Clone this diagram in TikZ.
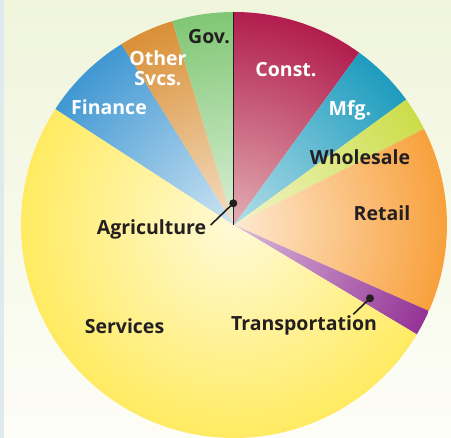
\documentclass[tikz,border=0pt]{standalone}
\usepackage{fontspec}
\setmainfont{Open Sans}
\definecolor{bgtop}{HTML}{F0F5DC}
\definecolor{bgbot}{HTML}{FDFDF7}
\definecolor{strip}{HTML}{DFE9EE}
\definecolor{ink}{HTML}{231F20}
\definecolor{constc}{HTML}{A8003A}
\definecolor{constin}{HTML}{E2AEB2}
\definecolor{mfgc}{HTML}{008FB5}
\definecolor{wholec}{HTML}{C5D82E}
\definecolor{retailc}{HTML}{F7921E}
\definecolor{transc}{HTML}{861888}
\definecolor{servc}{HTML}{FFE84A}
\definecolor{finc}{HTML}{2488CC}
\definecolor{otherc}{HTML}{D4801A}
\definecolor{govc}{HTML}{6EBF60}
\begin{document}
\begin{tikzpicture}[x=1pt,y=1pt,
  lbl/.style={font=\bfseries\fontsize{19.5}{20}\selectfont,text=ink,anchor=base,inner sep=0pt},
  wlbl/.style={lbl,text=white}]
        \def\R{213}
        \useasboundingbox (-234,-213) rectangle (217,225);
        % background
        \fill[top color=bgtop,bottom color=bgbot] (-234,-213) rectangle (217,225);
        \fill[strip] (-234,-213) rectangle (-230,225);
        \coordinate (O) at (0,0);
        % slices
        \begin{scope}
          \clip (O) -- (54:\R) arc[start angle=54,end angle=90,radius=\R] -- cycle;
          \shade[inner color=constin,outer color=constc] (O) circle (1.2*\R);
        \end{scope}
        \begin{scope}
          \clip (O) -- (36.05:\R) arc[start angle=36.05,end angle=54,radius=\R] -- cycle;
          \shade[inner color=mfgc!30!white,outer color=mfgc] (O) circle (1.2*\R);
        \end{scope}
        \begin{scope}
          \clip (O) -- (26.8:\R) arc[start angle=26.8,end angle=36.05,radius=\R] -- cycle;
          \shade[inner color=wholec!25!white,outer color=wholec] (O) circle (1.2*\R);
        \end{scope}
        \begin{scope}
          \clip (O) -- (-23.8:\R) arc[start angle=-23.8,end angle=26.8,radius=\R] -- cycle;
          \shade[inner color=retailc!20!white,outer color=retailc] (O) circle (1.2*\R);
        \end{scope}
        \begin{scope}
          \clip (O) -- (-30.9:\R) arc[start angle=-30.9,end angle=-23.8,radius=\R] -- cycle;
          \shade[inner color=transc!30!white,outer color=transc] (O) circle (1.2*\R);
        \end{scope}
        \begin{scope}
          \clip (O) -- (147:\R) arc[start angle=147,end angle=329.1,radius=\R] -- cycle;
          \shade[inner color=servc!22!white,outer color=servc] (O) circle (1.2*\R);
        \end{scope}
        \begin{scope}
          \clip (O) -- (121.9:\R) arc[start angle=121.9,end angle=147,radius=\R] -- cycle;
          \shade[inner color=finc!22!white,outer color=finc] (O) circle (1.2*\R);
        \end{scope}
        \begin{scope}
          \clip (O) -- (106.8:\R) arc[start angle=106.8,end angle=121.9,radius=\R] -- cycle;
          \shade[inner color=otherc!25!white,outer color=otherc] (O) circle (1.2*\R);
        \end{scope}
        \begin{scope}
          \clip (O) -- (90:\R) arc[start angle=90,end angle=106.8,radius=\R] -- cycle;
          \shade[inner color=govc!25!white,outer color=govc] (O) circle (1.2*\R);
        \end{scope}
        % agriculture line
        \coordinate (top) at (90:\R);
        \draw[ink,line width=1pt] (O) -- (top);
        % labels
        \node[lbl] (gov) at (-25,181) {Gov.};
        \node[wlbl,anchor=center,align=center,font=\bfseries\fontsize{19.5}{20}\selectfont] (other) at (-76,157) {Other\\Svcs.};
        \node[wlbl] (const) at (52,148) {Const.};
        \node[wlbl] (mfg) at (116,109) {Mfg.};
        \node[lbl] (whole) at (126,60) {Wholesale};
        \node[lbl] (retail) at (148,4) {Retail};
        \node[wlbl] (fin) at (-125,110) {Finance};
        \node[lbl] (agri) at (-82.5,-9.5) {Agriculture};
        \node[lbl] (serv) at (-109.5,-109) {Services};
        \node[lbl] (trans) at (70,-106) {Transportation};
        % leaders
        \coordinate (agdot) at (-0.7,21.7);
        \coordinate (agend) at (-23.3,0);
        \draw[ink,line width=1.6pt] (agdot) -- (agend);
        \fill[ink] (agdot) circle (4);
        \coordinate (trdot) at (136,-73.3);
        \coordinate (trend) at (119.3,-89.3);
        \draw[ink,line width=1.6pt] (trdot) -- (trend);
        \fill[ink] (trdot) circle (4);
\end{tikzpicture}
\end{document}
